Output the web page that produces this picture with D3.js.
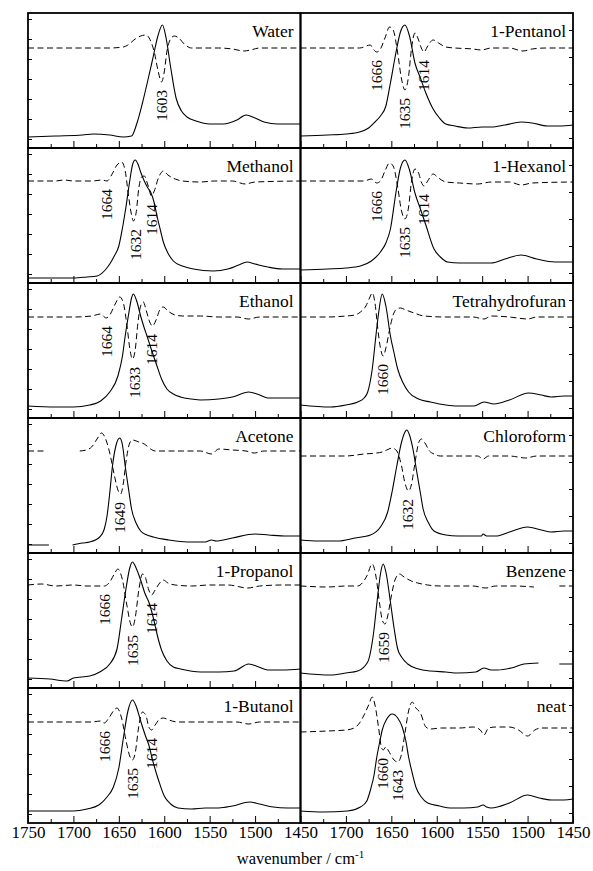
<!DOCTYPE html>
<html>
<head>
<meta charset="utf-8">
<script src="https://cdnjs.cloudflare.com/ajax/libs/d3/7.8.5/d3.min.js"></script>
<style>
  body { margin: 0; background: #fff; }
  text { font-family: "Liberation Serif", "Times New Roman", serif; fill: #000; }
</style>
</head>
<body>
<div id="chart"></div>
<script>
// panels in reading order (left column, right column)
var panelNames = ["Water", "1-Pentanol", "Methanol", "1-Hexanol", "Ethanol", "Tetrahydrofuran",
                  "Acetone", "Chloroform", "1-Propanol", "Benzene", "1-Butanol", "neat"];

// x tick labels (cm-1)
var tickLabelsLeft = [1750, 1700, 1650, 1600, 1550, 1500, 1450];
var tickLabelsRight = [1700, 1650, 1600, 1550, 1500, 1450];
var minorTicks = [1725, 1675, 1625, 1575, 1525, 1475];

// absorbance spectra [wavenumber, a.u.]  (null = gap in the record)
var waterAbs = [[1750,0.11],[1720,0.12],[1690,0.13],[1678,0.14],[1660,0.13],[1645,0.11],[1636,0.12],[1630,0.25],[1624,0.45],[1618,0.68],[1612,0.92],[1607,1.12],[1602,1.23],[1598,1.10],[1593,0.81],[1587,0.50],[1581,0.37],[1575,0.31],[1565,0.27],[1550,0.24],[1535,0.24],[1520,0.28],[1510,0.33],[1500,0.30],[1490,0.26],[1475,0.24],[1450,0.24]];
var pentanolAbs = [[1750,0.12],[1720,0.13],[1700,0.14],[1685,0.16],[1675,0.20],[1668,0.26],[1662,0.32],[1656,0.42],[1651,0.65],[1645,0.95],[1640,1.16],[1635,1.23],[1630,1.12],[1624,0.85],[1618,0.70],[1612,0.55],[1604,0.39],[1597,0.30],[1590,0.24],[1580,0.22],[1566,0.20],[1550,0.21],[1540,0.21],[1525,0.23],[1507,0.26],[1495,0.25],[1478,0.22],[1465,0.22],[1450,0.23]];
var methanolAbs = [[1750,0.05],[1720,0.05],[1700,0.05],[1685,0.06],[1674,0.07],[1665,0.13],[1660,0.19],[1655,0.27],[1650,0.37],[1646,0.55],[1642,0.77],[1638,1.02],[1635,1.18],[1632,1.23],[1629,1.19],[1626,1.11],[1622,1.02],[1618,0.95],[1615,0.91],[1611,0.80],[1608,0.67],[1604,0.52],[1601,0.41],[1596,0.30],[1590,0.22],[1580,0.17],[1568,0.14],[1546,0.12],[1530,0.14],[1518,0.18],[1509,0.21],[1500,0.19],[1486,0.16],[1470,0.14],[1450,0.14]];
var hexanolAbs = [[1750,0.13],[1720,0.14],[1700,0.15],[1684,0.17],[1672,0.22],[1662,0.31],[1656,0.40],[1651,0.54],[1645,0.90],[1640,1.15],[1635,1.23],[1630,1.13],[1624,0.90],[1618,0.74],[1612,0.58],[1603,0.34],[1596,0.26],[1588,0.21],[1575,0.20],[1559,0.20],[1540,0.20],[1525,0.24],[1507,0.28],[1490,0.24],[1470,0.21],[1450,0.21]];
var ethanolAbs = [[1750,0.12],[1720,0.11],[1700,0.11],[1682,0.13],[1670,0.17],[1660,0.26],[1651,0.42],[1646,0.62],[1643,0.82],[1639,1.05],[1636,1.20],[1634,1.24],[1630,1.16],[1626,1.02],[1622,0.90],[1619,0.82],[1614,0.68],[1608,0.52],[1603,0.39],[1597,0.29],[1590,0.24],[1582,0.21],[1570,0.19],[1560,0.18],[1540,0.19],[1525,0.21],[1507,0.26],[1495,0.23],[1486,0.20],[1470,0.20],[1450,0.20]];
var thfAbs = [[1750,0.13],[1717,0.11],[1700,0.13],[1687,0.16],[1680,0.20],[1676,0.26],[1671,0.49],[1667,0.82],[1664,1.05],[1660,1.24],[1656,1.12],[1651,0.82],[1647,0.65],[1643,0.49],[1637,0.35],[1631,0.26],[1620,0.19],[1607,0.16],[1590,0.13],[1577,0.12],[1559,0.12],[1548,0.16],[1537,0.14],[1520,0.18],[1499,0.25],[1485,0.23],[1474,0.21],[1460,0.22],[1450,0.22]];
var acetoneAbs = [[1750,0.08],[1740,0.08],[1727,0.08],[1714,null],[1701,0.08],[1690,0.10],[1682,0.11],[1671,0.16],[1666,0.24],[1663,0.37],[1660,0.60],[1657,0.87],[1653,1.08],[1649,1.15],[1646,1.08],[1643,0.87],[1639,0.62],[1636,0.44],[1631,0.30],[1626,0.22],[1619,0.18],[1612,0.16],[1595,0.13],[1575,0.11],[1555,0.11],[1548,0.13],[1543,0.12],[1525,0.15],[1500,0.19],[1485,0.18],[1465,0.17],[1450,0.17]];
var chloroformAbs = [[1750,0.13],[1730,0.12],[1709,0.12],[1690,0.15],[1673,0.18],[1662,0.26],[1654,0.41],[1649,0.62],[1644,0.87],[1639,1.10],[1635,1.21],[1633,1.23],[1630,1.18],[1626,1.03],[1622,0.81],[1618,0.60],[1615,0.44],[1609,0.30],[1603,0.22],[1590,0.18],[1577,0.17],[1560,0.17],[1551,0.17],[1549,0.19],[1545,0.17],[1535,0.17],[1520,0.21],[1500,0.26],[1485,0.23],[1474,0.21],[1460,0.22],[1450,0.22]];
var propanolAbs = [[1750,0.10],[1726,0.09],[1707,0.07],[1700,0.10],[1682,0.12],[1671,0.16],[1660,0.24],[1652,0.39],[1647,0.69],[1642,1.00],[1638,1.20],[1635,1.26],[1631,1.20],[1626,1.08],[1621,0.94],[1617,0.86],[1612,0.70],[1608,0.54],[1603,0.38],[1597,0.27],[1590,0.21],[1582,0.19],[1560,0.16],[1540,0.16],[1523,0.17],[1507,0.24],[1496,0.21],[1486,0.18],[1470,0.18],[1450,0.19]];
var benzeneAbs = [[1750,0.15],[1717,0.13],[1700,0.15],[1687,0.17],[1676,0.26],[1670,0.52],[1665,0.92],[1662,1.14],[1659,1.24],[1656,1.16],[1651,0.86],[1647,0.60],[1643,0.39],[1638,0.30],[1632,0.24],[1620,0.19],[1607,0.17],[1590,0.16],[1577,0.15],[1557,0.16],[1548,0.20],[1540,0.18],[1533,0.18],[1518,0.20],[1504,0.24],[1488,0.25],[1476,null],[1465,0.24],[1450,0.24]];
var butanolAbs = [[1750,0.12],[1720,0.12],[1700,0.12],[1685,0.14],[1672,0.18],[1663,0.26],[1656,0.36],[1650,0.55],[1645,0.85],[1640,1.12],[1635,1.23],[1631,1.17],[1626,1.02],[1621,0.88],[1617,0.78],[1612,0.60],[1606,0.42],[1600,0.27],[1593,0.19],[1585,0.15],[1570,0.14],[1555,0.15],[1540,0.15],[1525,0.17],[1506,0.21],[1495,0.19],[1480,0.16],[1465,0.15],[1450,0.15]];
var neatAbs = [[1750,0.12],[1725,0.11],[1698,0.12],[1684,0.16],[1677,0.22],[1673,0.33],[1669,0.48],[1666,0.66],[1663,0.80],[1660,0.93],[1655,1.04],[1649,1.09],[1643,1.05],[1638,0.96],[1634,0.82],[1631,0.66],[1627,0.50],[1623,0.36],[1617,0.26],[1610,0.20],[1597,0.17],[1585,0.15],[1570,0.15],[1555,0.16],[1549,0.18],[1545,0.16],[1540,0.15],[1520,0.20],[1500,0.28],[1487,0.25],[1474,0.23],[1460,0.23],[1450,0.24]];

// second derivative spectra (offset, inverted scale) [wavenumber, a.u.]
var waterD2 = [[1750,1.00],[1700,1.00],[1660,1.00],[1645,1.01],[1640,1.03],[1632,1.09],[1626,1.12],[1620,1.13],[1615,1.07],[1611,0.96],[1607,0.78],[1603,0.66],[1600,0.76],[1597,0.97],[1593,1.09],[1589,1.12],[1584,1.10],[1578,1.04],[1570,1.00],[1540,1.00],[1525,0.99],[1512,0.97],[1505,0.98],[1495,1.00],[1450,1.00]];
var pentanolD2 = [[1750,1.00],[1700,1.00],[1685,1.00],[1673,1.03],[1670,0.99],[1666,0.96],[1662,0.99],[1657,1.10],[1652,1.21],[1648,1.18],[1643,0.95],[1639,0.70],[1635,0.58],[1631,0.72],[1628,0.98],[1624,1.15],[1620,1.08],[1617,1.00],[1614,0.96],[1610,1.02],[1604,1.08],[1598,1.05],[1590,1.01],[1580,1.00],[1560,0.99],[1551,0.98],[1540,1.00],[1520,1.00],[1505,0.97],[1495,0.99],[1480,1.00],[1450,1.00]];
var methanolD2 = [[1750,1.02],[1720,1.02],[1710,1.03],[1700,1.02],[1680,1.02],[1668,1.03],[1663,1.02],[1658,1.08],[1652,1.18],[1647,1.21],[1643,1.12],[1639,0.85],[1636,0.68],[1634,0.62],[1631,0.70],[1628,0.95],[1625,1.06],[1622,1.07],[1618,0.98],[1614,0.87],[1611,0.92],[1606,1.06],[1601,1.12],[1596,1.08],[1588,1.04],[1580,1.02],[1560,1.01],[1545,1.02],[1525,1.02],[1511,0.99],[1500,1.01],[1450,1.02]];
var hexanolD2 = [[1750,1.02],[1700,1.02],[1680,1.02],[1672,1.04],[1666,1.00],[1662,1.02],[1657,1.12],[1652,1.20],[1648,1.17],[1643,0.96],[1639,0.73],[1635,0.64],[1631,0.76],[1628,1.00],[1624,1.14],[1620,1.10],[1617,1.01],[1614,0.97],[1610,1.02],[1604,1.09],[1598,1.05],[1590,1.01],[1575,1.00],[1555,0.99],[1540,1.01],[1520,1.01],[1507,0.98],[1495,1.00],[1450,1.01]];
var ethanolD2 = [[1750,1.01],[1720,1.01],[1700,1.01],[1680,1.02],[1670,1.04],[1664,1.00],[1660,1.03],[1654,1.14],[1649,1.21],[1645,1.15],[1641,0.92],[1638,0.70],[1635,0.59],[1632,0.68],[1629,0.95],[1626,1.12],[1623,1.16],[1620,1.08],[1616,0.96],[1613,0.92],[1609,0.98],[1605,1.08],[1601,1.11],[1596,1.07],[1588,1.03],[1580,1.02],[1560,1.02],[1540,1.01],[1520,1.01],[1507,0.99],[1495,1.01],[1450,1.01]];
var thfD2 = [[1750,1.01],[1720,1.01],[1700,1.02],[1690,1.03],[1684,1.06],[1678,1.12],[1674,1.20],[1671,1.25],[1668,1.15],[1665,0.90],[1662,0.70],[1659,0.62],[1656,0.70],[1652,0.88],[1648,1.03],[1644,1.09],[1640,1.10],[1634,1.08],[1625,1.05],[1614,1.02],[1590,1.01],[1560,1.01],[1548,0.99],[1540,1.02],[1520,1.01],[1500,0.99],[1490,1.01],[1450,1.01]];
var acetoneD2 = [[1750,1.02],[1729,1.02],[1712,null],[1693,1.02],[1686,1.03],[1680,1.06],[1674,1.14],[1669,1.20],[1665,1.15],[1660,1.00],[1655,0.78],[1651,0.63],[1648,0.59],[1645,0.70],[1642,0.92],[1638,1.10],[1635,1.13],[1628,1.11],[1622,1.09],[1615,1.04],[1610,1.02],[1580,1.02],[1560,1.02],[1548,0.99],[1540,1.04],[1525,1.03],[1510,1.02],[1501,1.00],[1490,1.02],[1450,1.02]];
var chloroformD2 = [[1750,0.97],[1720,0.97],[1700,0.97],[1680,0.99],[1666,1.00],[1660,1.01],[1655,1.03],[1649,1.05],[1644,1.02],[1639,0.88],[1635,0.70],[1631,0.62],[1628,0.68],[1624,0.90],[1620,1.10],[1617,1.14],[1613,1.10],[1608,1.02],[1603,0.99],[1596,0.97],[1575,0.97],[1555,0.97],[1549,0.94],[1543,0.97],[1520,0.97],[1502,0.95],[1490,0.97],[1450,0.97]];
var propanolD2 = [[1750,1.03],[1735,1.04],[1720,1.02],[1700,1.03],[1685,1.02],[1672,1.02],[1666,1.02],[1660,1.06],[1655,1.14],[1651,1.19],[1646,1.08],[1641,0.82],[1637,0.64],[1635,0.61],[1632,0.70],[1628,0.98],[1624,1.14],[1621,1.11],[1617,0.98],[1614,0.93],[1610,0.98],[1605,1.05],[1601,1.08],[1596,1.05],[1588,1.03],[1570,1.02],[1550,1.03],[1530,1.03],[1508,1.00],[1495,1.02],[1470,1.03],[1450,1.03]];
var benzeneD2 = [[1750,1.02],[1720,1.01],[1700,1.02],[1687,1.02],[1682,1.05],[1677,1.12],[1671,1.24],[1667,1.12],[1663,0.85],[1660,0.68],[1657,0.64],[1654,0.72],[1650,0.92],[1646,1.08],[1641,1.14],[1636,1.11],[1628,1.07],[1621,1.05],[1610,1.03],[1596,1.02],[1560,1.02],[1546,1.00],[1535,1.02],[1515,1.02],[1493,1.01],[1480,null],[1465,1.02],[1450,1.02]];
var butanolD2 = [[1750,1.01],[1720,1.01],[1700,1.01],[1680,1.01],[1670,1.02],[1666,1.00],[1661,1.05],[1656,1.12],[1652,1.15],[1647,1.05],[1642,0.82],[1638,0.67],[1635,0.63],[1632,0.70],[1628,0.97],[1624,1.11],[1620,1.07],[1617,0.96],[1614,0.93],[1610,0.98],[1605,1.04],[1601,1.05],[1595,1.03],[1585,1.01],[1560,1.01],[1540,1.01],[1520,1.01],[1507,0.99],[1495,1.01],[1450,1.01]];
var neatD2 = [[1750,0.91],[1720,0.92],[1700,0.93],[1691,0.95],[1685,1.00],[1680,1.08],[1675,1.18],[1671,1.26],[1668,1.18],[1664,0.95],[1661,0.76],[1659,0.73],[1656,0.76],[1653,0.72],[1647,0.63],[1643,0.61],[1639,0.68],[1635,0.90],[1631,1.12],[1627,1.21],[1623,1.15],[1618,1.10],[1612,0.96],[1607,0.94],[1595,0.95],[1575,0.95],[1560,0.96],[1552,0.93],[1548,0.88],[1543,0.95],[1535,0.96],[1520,0.96],[1510,0.93],[1500,0.87],[1492,0.93],[1485,0.95],[1450,0.95]];

var absData = [waterAbs, pentanolAbs, methanolAbs, hexanolAbs, ethanolAbs, thfAbs,
               acetoneAbs, chloroformAbs, propanolAbs, benzeneAbs, butanolAbs, neatAbs];
var d2Data = [waterD2, pentanolD2, methanolD2, hexanolD2, ethanolD2, thfD2,
              acetoneD2, chloroformD2, propanolD2, benzeneD2, butanolD2, neatD2];

// band positions marked under the 2nd derivative minima
var peakPanels = ["Water", "1-Pentanol", "1-Pentanol", "1-Pentanol", "Methanol", "Methanol", "Methanol",
                  "1-Hexanol", "1-Hexanol", "1-Hexanol", "Ethanol", "Ethanol", "Ethanol", "Tetrahydrofuran",
                  "Acetone", "Chloroform", "1-Propanol", "1-Propanol", "1-Propanol", "Benzene",
                  "1-Butanol", "1-Butanol", "1-Butanol", "neat", "neat"];
var peakValues = [1603, 1666, 1635, 1614, 1664, 1632, 1614,
                  1666, 1635, 1614, 1664, 1633, 1614, 1660,
                  1649, 1632, 1666, 1635, 1614, 1659,
                  1666, 1635, 1614, 1660, 1643];

var width = 593, height = 871;
var left = 28, top0 = 13;
var panelW = 272.5, panelH = 135;

var svg = d3.select("#chart").append("svg")
    .attr("width", width)
    .attr("height", height);

var x = d3.scaleLinear().domain([1750, 1450]).range([0, panelW]);
var y = d3.scaleLinear().domain([0, 1.35]).range([panelH, 0]);

var line = d3.line()
    .defined(function(d) { return d[1] != null; })
    .x(function(d) { return x(d[0]); })
    .y(function(d) { return y(d[1]); })
    .curve(d3.curveMonotoneX);

panelNames.forEach(function(name, i) {
  var col = i % 2, row = Math.floor(i / 2);
  var g = svg.append("g")
      .attr("transform", "translate(" + (left + col * panelW) + "," + (top0 + row * panelH) + ")");

  // x ticks, pointing inward from the bottom
  var lastRow = row == 5;
  var major = d3.axisBottom(x)
      .tickValues(col == 0 ? tickLabelsLeft : tickLabelsRight)
      .tickSize(-7).tickPadding(3)
      .tickFormat(lastRow ? d3.format("d") : "");
  var gx = g.append("g").attr("transform", "translate(0," + panelH + ")").call(major);
  gx.select(".domain").remove();
  gx.selectAll("text").attr("font-size", 17);

  var minor = d3.axisBottom(x).tickValues(minorTicks).tickSize(-4).tickFormat("");
  var gm = g.append("g").attr("transform", "translate(0," + panelH + ")").call(minor);
  gm.select(".domain").remove();

  // y ticks (no labels)
  var yAxis = col == 0 ? d3.axisLeft(y) : d3.axisRight(y);
  var gy = g.append("g")
      .attr("transform", "translate(" + (col == 0 ? 0 : panelW) + ",0)")
      .call(yAxis.tickValues(col == 0 ? d3.range(0.09, 1.35, 0.2) : d3.range(0.1, 1.35, 0.27))
                 .tickSize(-4).tickFormat(""));
  gy.select(".domain").remove();

  g.append("path")
      .datum(d2Data[i])
      .attr("fill", "none")
      .attr("stroke", "#000")
      .attr("stroke-width", 1)
      .attr("stroke-dasharray", "6,3.5")
      .attr("d", line);

  g.append("path")
      .datum(absData[i])
      .attr("fill", "none")
      .attr("stroke", "#000")
      .attr("stroke-width", 1.1)
      .attr("d", line);

  g.append("text")
      .attr("x", panelW - 7)
      .attr("y", 24)
      .attr("text-anchor", "end")
      .attr("font-size", 17.5)
      .text(name);

  // vertical band labels just under the derivative minimum
  peakPanels.forEach(function(p, k) {
    if (p != name) return;
    var wn = peakValues[k];
    var near = d2Data[i].filter(function(d) { return d[1] != null && Math.abs(d[0] - wn) <= 4; });
    var dip = d3.min(near, function(d) { return d[1]; });
    var px = x(wn), py = y(dip) + 8;
    g.append("text")
        .attr("transform", "translate(" + px + "," + py + ") rotate(-90)")
        .attr("text-anchor", "end")
        .attr("dy", "0.35em")
        .attr("font-size", 15.5)
        .text(wn);
  });

  g.append("rect")
      .attr("width", panelW)
      .attr("height", panelH)
      .attr("fill", "none")
      .attr("stroke", "#000")
      .attr("stroke-width", 1.8);
});

var title = svg.append("text")
    .attr("x", left + panelW)
    .attr("y", 864)
    .attr("text-anchor", "middle")
    .attr("font-size", 16.5)
    .text("wavenumber / cm");
title.append("tspan")
    .attr("dy", -6)
    .attr("font-size", 11)
    .text("-1");
</script>
</body>
</html>
